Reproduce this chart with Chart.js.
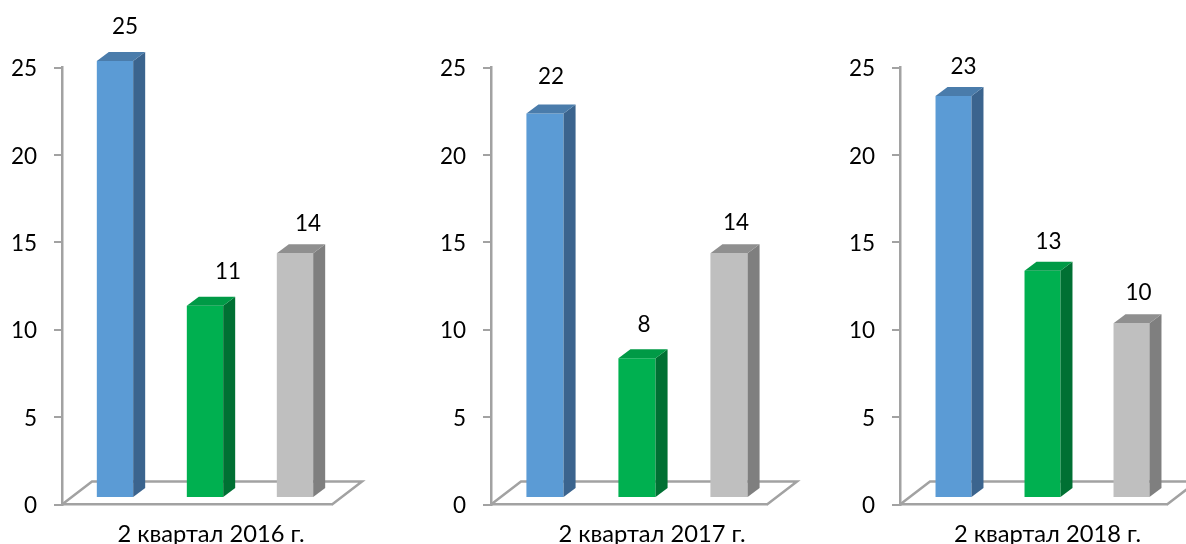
<!DOCTYPE html>
<html><head><meta charset="utf-8">
<style>html,body{margin:0;padding:0;background:#fff;overflow:hidden}
canvas{position:absolute;top:0}</style>
<script src="https://cdn.jsdelivr.net/npm/chart.js@4"></script>
</head><body>
<canvas id="c0" style="left:0"></canvas>
<canvas id="c1" style="left:400px"></canvas>
<canvas id="c2" style="left:810px"></canvas>
<script>
const quarters = ["2 квартал 2016 г.", "2 квартал 2017 г.", "2 квартал 2018 г."];
const blueValues = [25, 22, 23];
const greenValues = [11, 8, 13];
const greyValues = [14, 14, 10];
const seriesNames = ["Синие", "Зелёные", "Серые"];
const yTicks = [0, 5, 10, 15, 20, 25];

const frontColors = ["#5b9bd5", "#00b050", "#bfbfbf"];
const topColors = ["#4a7cab", "#009a46", "#8f8f8f"];
const sideColors = ["#3b648e", "#007033", "#7f7f7f"];
const axisColor = "#a2a2a2";
const fontFamily = "Lato, 'Open Sans', sans-serif";

const layouts = [
  {w:400, h:544, axisX:62, plotW:270, planeDx:8, floorDx:30, labelShift:14, labelDx:[10,23,13], labelDy:[34,34,30]},
  {w:410, h:544, axisX:91, plotW:276, planeDx:8, floorDx:30, labelShift:23, labelDx:[6,7,7], labelDy:[37,33,31]},
  {w:376, h:544, axisX:90, plotW:267, planeDx:9, floorDx:30, labelShift:14, labelDx:[10,6,7], labelDy:[29,29,30]}
];
const plotTop = 67.5, plotBottom = 504.5, planeDy = -6.5, floorDy = -23, depthX = 12, depthY = -9;

const bars3d = {
  id: "bars3d",
  beforeDatasetsDraw(chart, args, opts) {
    const {ctx, chartArea: a} = chart;
    ctx.save();
    ctx.strokeStyle = axisColor; ctx.lineWidth = 2.5; ctx.lineJoin = "miter";
    ctx.beginPath();
    ctx.moveTo(a.left, a.bottom);
    ctx.lineTo(a.left + opts.floorDx, a.bottom + floorDy);
    ctx.lineTo(a.right + opts.floorDx, a.bottom + floorDy);
    ctx.lineTo(a.right, a.bottom);
    ctx.stroke();
    ctx.restore();
    ctx.save();
    ctx.translate(opts.planeDx, planeDy);
  },
  afterDatasetsDraw(chart, args, opts) {
    const {ctx} = chart;
    ctx.restore();
    ctx.save();
    ctx.translate(opts.planeDx, planeDy);
    chart.data.datasets.forEach((ds, i) => {
      const b = chart.getDatasetMeta(i).data[0];
      const L = b.x - b.width / 2, R = b.x + b.width / 2, T = b.y, B = b.base;
      ctx.fillStyle = sideColors[i];
      ctx.beginPath();
      ctx.moveTo(R, T); ctx.lineTo(R + depthX, T + depthY);
      ctx.lineTo(R + depthX, B + depthY); ctx.lineTo(R, B);
      ctx.closePath(); ctx.fill();
      ctx.fillStyle = topColors[i];
      ctx.beginPath();
      ctx.moveTo(L, T); ctx.lineTo(L + depthX, T + depthY);
      ctx.lineTo(R + depthX, T + depthY); ctx.lineTo(R, T);
      ctx.closePath(); ctx.fill();
    });
    ctx.restore();
    ctx.save();
    ctx.fillStyle = "#000";
    ctx.font = "22.5px " + fontFamily;
    ctx.textAlign = "center"; ctx.textBaseline = "middle";
    chart.data.datasets.forEach((ds, i) => {
      const b = chart.getDatasetMeta(i).data[0];
      ctx.fillText(String(ds.data[0]), b.x + opts.planeDx + opts.labelDx[i], b.y + planeDy - opts.labelDy[i]);
    });
    ctx.restore();
  }
};

quarters.forEach((q, n) => {
  const g = layouts[n];
  const cv = document.getElementById("c" + n);
  cv.width = g.w; cv.height = g.h;
  cv.style.width = g.w + "px"; cv.style.height = g.h + "px";
  const values = [blueValues[n], greenValues[n], greyValues[n]];
  new Chart(cv, {
    type: "bar",
    data: {
      labels: [q],
      datasets: values.map((v, i) => ({
        label: seriesNames[i], data: [v], backgroundColor: frontColors[i],
        borderWidth: 0, categoryPercentage: 1, barPercentage: 0.404, clip: false
      }))
    },
    options: {
      responsive: false, animation: false, devicePixelRatio: 1,
      layout: {padding: {left: 0, top: plotTop, right: g.w - g.axisX - g.plotW, bottom: 0}},
      plugins: {legend: {display: false}, tooltip: {enabled: false}, bars3d: g},
      scales: {
        x: {
          grid: {display: false, drawTicks: false},
          border: {display: true, color: axisColor, width: 2.5},
          ticks: {color: "#000", font: {size: 23.7, family: fontFamily}, labelOffset: g.labelShift, padding: 16, maxRotation: 0},
          afterFit(s) { s.height = g.h - plotBottom; }
        },
        y: {
          min: 0, max: 25,
          afterBuildTicks(s) { s.ticks = yTicks.map(v => ({value: v})); },
          grid: {drawOnChartArea: false, drawTicks: true, tickLength: 8, color: axisColor, lineWidth: 2},
          border: {display: true, color: axisColor, width: 2.5},
          ticks: {color: "#000", font: {size: 22.5, family: fontFamily}, padding: 17, labelOffset: 1.5},
          afterFit(s) { s.width = g.axisX; }
        }
      }
    },
    plugins: [bars3d]
  });
});
</script>
</body></html>
